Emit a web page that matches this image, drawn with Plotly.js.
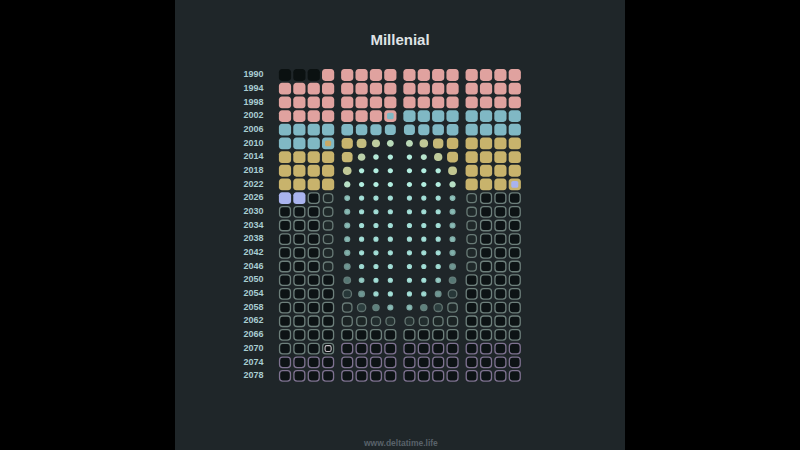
<!DOCTYPE html>
<html>
<head>
<meta charset="utf-8">
<script src="https://cdn.plot.ly/plotly-3.0.1.min.js"></script>
<style>
  html, body { margin: 0; padding: 0; background: #000; }
  #chart { width: 800px; height: 450px; }
</style>
</head>
<body>
<div id="chart"></div>
<script>
// ---------- DATA ----------
const chartTitle = 'Millenial';
const footerText = 'www.deltatime.life';

// one row = 4 years, 16 quarters (4 groups of 4)
const years = [1990, 1994, 1998, 2002, 2006, 2010, 2014, 2018, 2022, 2026, 2030, 2034,
               2038, 2042, 2046, 2050, 2054, 2058, 2062, 2066, 2070, 2074, 2078];

// life phase of each quarter
// u unborn, c childhood, s school, y young adult, l adult (now), f future, o old age
// B childhood->school, Y school->young adult, L young adult->adult, X marked quarter
const phaseRows = [
  'uuuccccccccccccc',
  'cccccccccccccccc',
  'cccccccccccccccc',
  'cccccccBssssssss',
  'ssssssssssssssss',
  'sssYyyyyyyyyyyyy',
  'yyyyyyyyyyyyyyyy',
  'yyyyyyyyyyyyyyyy',
  'yyyyyyyyyyyyyyyL',
  'llffffffffffffff',
  'ffffffffffffffff',
  'ffffffffffffffff',
  'ffffffffffffffff',
  'ffffffffffffffff',
  'ffffffffffffffff',
  'ffffffffffffffff',
  'ffffffffffffffff',
  'ffffffffffffffff',
  'ffffffffffffffff',
  'ffffffffffffffff',
  'fffXoooooooooooo',
  'oooooooooooooooo',
  'oooooooooooooooo'
];

// relative size of each quarter mark (hourglass animation frame)
const scaleRows = [
  [1,1,1,1, 1,1,1,1, 1,1,1,1, 1,1,1,1],
  [1,1,1,1, 1,1,1,1, 1,1,1,1, 1,1,1,1],
  [1,1,1,1, 1,1,1,1, 1,1,1,1, 1,1,1,1],
  [1,1,1,1, 1,1,1,1, 1,1,1,1, 1,1,1,1],
  [1,1,1,1, 0.96,0.94,0.92,0.9, 0.9,0.92,0.94,0.96, 1,1,1,1],
  [1,1,1,1, 0.92,0.8,0.66,0.56, 0.57,0.7,0.85,0.94, 1,1,1,1],
  [1,1,1,1, 0.88,0.62,0.46,0.44, 0.44,0.5,0.68,0.9, 1,1,1,1],
  [1,1,1,1, 0.7,0.44,0.43,0.43, 0.43,0.43,0.44,0.72, 1,1,1,1],
  [1,1,1,1, 0.52,0.43,0.43,0.43, 0.43,0.43,0.43,0.52, 1,1,1,1],
  [1,1,1,0.88, 0.48,0.43,0.43,0.43, 0.43,0.43,0.43,0.48, 0.88,1,1,1],
  [1,1,1,0.88, 0.5,0.43,0.43,0.43, 0.43,0.43,0.43,0.5, 0.88,1,1,1],
  [1,1,1,0.88, 0.5,0.43,0.43,0.43, 0.43,0.43,0.43,0.5, 0.88,1,1,1],
  [1,1,1,0.88, 0.5,0.43,0.43,0.43, 0.43,0.43,0.43,0.5, 0.88,1,1,1],
  [1,1,1,0.88, 0.52,0.43,0.43,0.43, 0.43,0.43,0.43,0.52, 0.88,1,1,1],
  [1,1,1,0.88, 0.57,0.44,0.43,0.43, 0.43,0.43,0.44,0.57, 0.88,1,1,1],
  [1,1,1,1, 0.64,0.47,0.43,0.43, 0.43,0.43,0.47,0.64, 1,1,1,1],
  [1,1,1,1, 0.8,0.57,0.44,0.43, 0.43,0.44,0.57,0.8, 1,1,1,1],
  [1,1,1,1, 0.88,0.78,0.62,0.5, 0.5,0.62,0.78,0.88, 1,1,1,1],
  [1,1,1,1, 0.93,0.9,0.85,0.82, 0.82,0.85,0.9,0.93, 1,1,1,1],
  [1,1,1,1, 1,1,1,1, 1,1,1,1, 1,1,1,1],
  [1,1,1,1, 1,1,1,1, 1,1,1,1, 1,1,1,1],
  [1,1,1,1, 1,1,1,1, 1,1,1,1, 1,1,1,1],
  [1,1,1,1, 1,1,1,1, 1,1,1,1, 1,1,1,1]
];

// ---------- STYLE ----------
const PANEL = '#1f2629';
const CYAN = '#b0f3ea';
const STYLE = {
  u: { fill: '#0b1111', line: null },
  c: { fill: '#e0a29f', line: null },
  s: { fill: '#80b8c4', line: null },
  y: { fill: '#c8b36c', line: null },
  l: { fill: '#a9b3ee', line: null },
  f: { fill: '#0d1315', line: '#6d7f7b' },
  o: { fill: '#0d1315', line: '#7e7290' }
};
const TRANSITION = {
  B: { outer: 'c', inner: { fill: '#80b8c4', line: null, size: 0.55 } },
  Y: { outer: 's', inner: { fill: '#c9a864', line: null, size: 0.5 } },
  L: { outer: 'y', inner: { fill: '#a9b3ee', line: null, size: 0.58 } },
  X: { outer: 'f', inner: { fill: '#0b1011', line: '#c9c2c8', size: 0.5 } }
};

// pixel geometry
const PX_X = 14.37;          // px per column unit
const PX_Y = 13.68 / 4;      // px per year
const GROUP_GAP = 0.33;      // extra gap between year groups, in column units
const CELL_W = 12.2, CELL_H = 11.8, CORNER = 3.1, STROKE = 1.3;

function hexToRgb(h) { h = h.replace('#',''); return [0,2,4].map(i => parseInt(h.substr(i,2),16)); }
function mix(a, b, t) {
  const A = hexToRgb(a), B = hexToRgb(b);
  return '#' + A.map((v,i) => Math.round(v + (B[i]-v)*t).toString(16).padStart(2,'0')).join('');
}
function clamp(v, lo, hi) { return Math.max(lo, Math.min(hi, v)); }

// rounded rectangle in data coordinates; size given in pixels
function roundedPath(cx, cy, wPx, hPx, cornerPx) {
  const hwPx = wPx / 2, hhPx = hPx / 2;
  const rPx = Math.min(cornerPx, Math.min(hwPx, hhPx));
  const hw = hwPx / PX_X, hh = hhPx / PX_Y;
  const rx = rPx / PX_X, ry = rPx / PX_Y;
  const k = 0.5523;
  const x0 = cx - hw, x1 = cx + hw, y0 = cy - hh, y1 = cy + hh;
  const f = n => n.toFixed(5);
  return 'M' + f(x0+rx) + ',' + f(y0) +
    ' L' + f(x1-rx) + ',' + f(y0) +
    ' C' + f(x1-rx+k*rx) + ',' + f(y0) + ' ' + f(x1) + ',' + f(y0+ry-k*ry) + ' ' + f(x1) + ',' + f(y0+ry) +
    ' L' + f(x1) + ',' + f(y1-ry) +
    ' C' + f(x1) + ',' + f(y1-ry+k*ry) + ' ' + f(x1-rx+k*rx) + ',' + f(y1) + ' ' + f(x1-rx) + ',' + f(y1) +
    ' L' + f(x0+rx) + ',' + f(y1) +
    ' C' + f(x0+rx-k*rx) + ',' + f(y1) + ' ' + f(x0) + ',' + f(y1-ry+k*ry) + ' ' + f(x0) + ',' + f(y1-ry) +
    ' L' + f(x0) + ',' + f(y0+ry) +
    ' C' + f(x0) + ',' + f(y0+ry-k*ry) + ' ' + f(x0+rx-k*rx) + ',' + f(y0) + ' ' + f(x0+rx) + ',' + f(y0) + ' Z';
}

const shapes = [{
  type: 'rect', xref: 'paper', yref: 'paper',
  x0: 175/800, x1: 625/800, y0: 0, y1: 1,
  fillcolor: PANEL, line: { width: 0 }, layer: 'below'
}];

years.forEach((yr, r) => {
  for (let c = 0; c < 16; c++) {
    const code = phaseRows[r][c];
    const s = scaleRows[r][c];
    const tr = TRANSITION[code];
    const base = STYLE[tr ? tr.outer : code];
    const cx = c + GROUP_GAP * Math.floor(c / 4);
    const t = Math.pow(clamp((0.95 - s) / 0.55, 0, 1), 1.4);
    const fill = mix(base.fill, CYAN, t);
    const rf = clamp(0.5 + (1 - s) * 1.25, 0.5, 1);
    const wPx = CELL_W * s, hPx = CELL_H * s;
    const corner = Math.max(CORNER, rf * Math.min(wPx, hPx) / 2);
    const inset = base.line ? STROKE : 0;
    shapes.push({
      type: 'path', xref: 'x', yref: 'y',
      path: roundedPath(cx, yr, wPx - inset, hPx - inset, corner),
      fillcolor: base.line ? mix(fill, '#2a3433', s > 0.8 && s < 0.95 ? 0.45 : 0) : fill,
      line: base.line ? { color: mix(base.line, fill, t), width: STROKE } : { width: 0 }
    });
    if (tr) {
      const inn = tr.inner;
      shapes.push({
        type: 'path', xref: 'x', yref: 'y',
        path: roundedPath(cx, yr, CELL_W * inn.size, CELL_H * inn.size, 1.8),
        fillcolor: inn.fill,
        line: inn.line ? { color: inn.line, width: 1.1 } : { width: 0 }
      });
    }
  }
});

const labelTrace = {
  type: 'scatter', mode: 'text',
  x: years.map(() => -1.5),
  y: years,
  text: years.map(String),
  textposition: 'middle left',
  textfont: { family: 'Liberation Sans, Arial, sans-serif', size: 9, color: '#a8cdd1', weight: 'bold' },
  hoverinfo: 'skip', showlegend: false
};

const layout = {
  width: 800, height: 450,
  margin: { l: 0, r: 0, t: 0, b: 0 },
  paper_bgcolor: '#000000',
  plot_bgcolor: 'rgba(0,0,0,0)',
  showlegend: false,
  title: {
    text: chartTitle, x: 0.5, xanchor: 'center', y: 1 - 40/450, yanchor: 'middle',
    font: { family: 'Liberation Sans, Arial, sans-serif', size: 15, color: '#dfe3e5', weight: 'bold' }
  },
  xaxis: { range: [-285/PX_X, (800-285)/PX_X], visible: false, fixedrange: true },
  yaxis: { range: [1990 + 375/PX_Y, 1990 - 75/PX_Y], visible: false, fixedrange: true },
  shapes: shapes,
  annotations: [{
    text: footerText, xref: 'paper', yref: 'paper', x: 0.5, y: 1 - 443/450,
    xanchor: 'center', yanchor: 'middle', showarrow: false,
    font: { family: 'Liberation Sans, Arial, sans-serif', size: 8.5, color: '#59626a', weight: 'bold' }
  }]
};

Plotly.newPlot('chart', [labelTrace], layout, { staticPlot: true, displayModeBar: false });
</script>
</body>
</html>
